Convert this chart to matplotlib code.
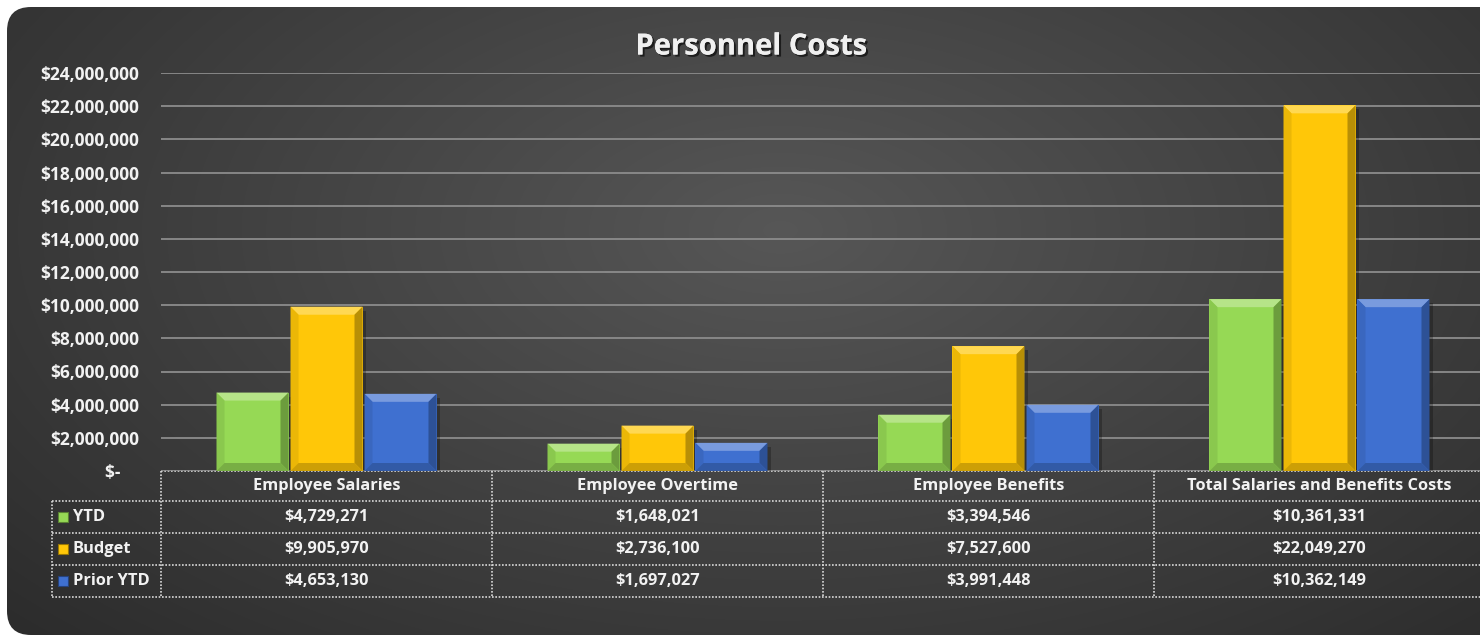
import numpy as np
import matplotlib
matplotlib.use('Agg')
import matplotlib.pyplot as plt
from matplotlib.patches import FancyBboxPatch, Polygon, Rectangle
import matplotlib.patheffects as pe
from matplotlib.ticker import FuncFormatter

plt.rcParams['font.family'] = ['Open Sans', 'DejaVu Sans']
plt.rcParams['font.weight'] = 'bold'

# data
categories = ['Employee Salaries', 'Employee Overtime', 'Employee Benefits',
              'Total Salaries and Benefits Costs']
series_names = ['YTD', 'Budget', 'Prior YTD']
ytd = [4729271, 1648021, 3394546, 10361331]
budget = [9905970, 2736100, 7527600, 22049270]
prior_ytd = [4653130, 1697027, 3991448, 10362149]
series_colors = ['#96d955', '#ffc708', '#3f70d0']

W, H = 1480, 642
fig = plt.figure(figsize=(W / 100, H / 100), dpi=100)
fig.patch.set_facecolor('white')

# background panel with radial gradient
bg = fig.add_axes([0, 0, 1, 1])
bg.set_xlim(0, W)
bg.set_ylim(H, 0)
bg.axis('off')
yy, xx = np.mgrid[0:H, 0:W]
r = np.sqrt(((xx - 780) / 950.0) ** 2 + ((yy - 230) / 520.0) ** 2)
g = np.clip(0.34 - 0.15 * r, 0.15, 0.4)
img = np.dstack([g, g, g])
panel = FancyBboxPatch((7, 7), 1530, 628, boxstyle='round,pad=0,rounding_size=24',
                       facecolor='none', edgecolor='none', transform=bg.transData)
bg.add_patch(panel)
im = bg.imshow(img, extent=(0, W, H, 0), aspect='auto', zorder=0)
im.set_clip_path(panel)

# title, drawn letter by letter for a little tracking
title = 'Personnel Costs'
tt = bg.text(751, 47, title, ha='center', va='center', fontsize=21,
             color='#f0f0f0', fontweight='bold',
             path_effects=[pe.withSimplePatchShadow(offset=(1.5, -1.5), shadow_rgbFace='black', alpha=0.6),
                           pe.Normal()])

# main plot area
x0p, x1p, ytop, ybot = 161, 1485, 73, 471
ax = fig.add_axes([x0p / W, (H - ybot) / H, (x1p - x0p) / W, (ybot - ytop) / H])
ax.set_facecolor('none')
ax.set_xlim(-0.5, 3.5)
ax.set_ylim(0, 24000000)
ax.set_yticks(np.arange(0, 24000001, 2000000))
ax.yaxis.set_major_formatter(FuncFormatter(lambda v, p: '$-    ' if v == 0 else '${:,.0f}'.format(v)))
ax.tick_params(axis='y', length=0, pad=16, labelsize=12.5, labelcolor='#f2f2f2')
ax.set_xticks([])
for s in ax.spines.values():
    s.set_visible(False)
ax.yaxis.grid(True, color='#8c8c8c', lw=1.3)
ax.set_axisbelow(True)

x = np.arange(len(categories))
step = 74 / 331
bw = 72 / 331
dx = 8 / 331
dy = 8 * 24000000 / (ybot - ytop)


def shade(c, f):
    c = np.array(matplotlib.colors.to_rgb(c))
    if f > 0:
        return tuple(c + (1 - c) * f)
    return tuple(c * (1 + f))


for i, (vals, col) in enumerate(zip([ytd, budget, prior_ytd], series_colors)):
    bars = ax.bar(x + (i - 1) * step, vals, width=bw, color=col, zorder=3)
    for b in bars:
        bx0, bx1, h = b.get_x(), b.get_x() + b.get_width(), b.get_height()
        d = min(dy, h / 2)
        # soft shadow on the right
        ax.add_patch(Rectangle((bx1, 0), dx * 0.4, h - d * 0.5, facecolor='black', alpha=0.25, zorder=2.5))
        polys = [
            ([(bx0, h), (bx1, h), (bx1 - dx, h - d), (bx0 + dx, h - d)], 0.3),
            ([(bx0, 0), (bx0, h), (bx0 + dx, h - d), (bx0 + dx, d)], -0.08),
            ([(bx1, 0), (bx1, h), (bx1 - dx, h - d), (bx1 - dx, d)], -0.28),
            ([(bx0, 0), (bx1, 0), (bx1 - dx, d), (bx0 + dx, d)], -0.2),
        ]
        for pts, f in polys:
            ax.add_patch(Polygon(pts, closed=True, facecolor=shade(col, f),
                                 edgecolor='none', zorder=4))

# data table under the chart
dot = dict(color='#d9d9d9', lw=1.2, linestyle=(0, (1, 1)), zorder=5)
col_edges = [161, 492, 823, 1154, 1485]
row_edges = [471, 501, 533, 565, 597]
bg.plot([161, 1485], [471, 471], **dot)
for yv in row_edges[1:]:
    bg.plot([52, 1485], [yv, yv], **dot)
bg.plot([52, 52], [501, 597], **dot)
for xv in col_edges:
    bg.plot([xv, xv], [471, 597], **dot)

txt = dict(ha='center', va='center', fontsize=11.8, color='#f2f2f2', fontweight='bold')
centers = [(col_edges[k] + col_edges[k + 1]) / 2 for k in range(4)]
for cx, cat in zip(centers, categories):
    bg.text(cx, 486, cat, **txt)
for r_i, (name, vals, col) in enumerate(zip(series_names, [ytd, budget, prior_ytd], series_colors)):
    yc = (row_edges[r_i + 1] + row_edges[r_i + 2]) / 2
    bg.add_patch(Rectangle((58, yc - 5), 10, 10, facecolor=col, edgecolor=shade(col, -0.4), lw=0.8))
    bg.text(73, yc, name, ha='left', va='center', fontsize=11.8, color='#f2f2f2', fontweight='bold')
    for cx, v in zip(centers, vals):
        bg.text(cx, yc, '${:,.0f}'.format(v), **txt)

fig.savefig('out.png', dpi=100)
